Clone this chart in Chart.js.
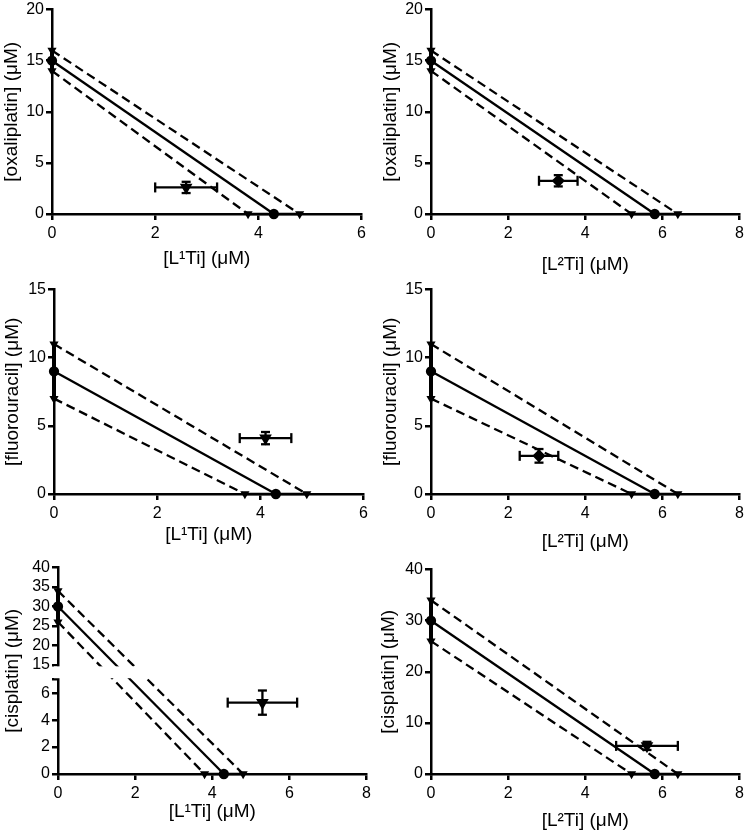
<!DOCTYPE html>
<html><head><meta charset="utf-8">
<script src="https://cdn.jsdelivr.net/npm/chart.js@4.4.1/dist/chart.umd.min.js"></script>
<style>
html,body{margin:0;padding:0;background:#fff;overflow:hidden;width:747px;height:834px;position:relative}
canvas{position:absolute}
</style></head><body>
<script>
// ---------- data ----------
const drugNames = ['oxaliplatin','oxaliplatin','fluorouracil','fluorouracil','cisplatin','cisplatin'];
const tiNames   = ['L¹Ti','L²Ti','L¹Ti','L²Ti','L¹Ti','L²Ti'];
const drugIC50  = [15, 15, 9, 9, 30, 30];
const drugErr   = [1, 1, 2, 2, 4, 4];
const tiIC50    = [4.3, 5.8, 4.3, 5.8, 4.3, 5.8];
const tiErr     = [0.5, 0.6, 0.6, 0.6, 0.5, 0.6];
const comboX    = [2.6, 3.3, 4.1, 2.8, 5.3, 5.6];
const comboXErr = [0.6, 0.5, 0.5, 0.5, 0.9, 0.8];
const comboY    = [2.6, 3.25, 4.1, 2.8, 5.3, 5.5];
const comboYErr = [0.55, 0.55, 0.45, 0.5, 0.9, 0.8];
const xMax      = [6, 8, 6, 8, 8, 8];
const yMax      = [20, 20, 15, 15, 40, 40];
const yStep     = [5, 5, 5, 5, 10, 10];
const brokenPanel     = 4;
const brokenLowRange  = [0, 7];
const brokenHighRange = [15, 40];
const brokenTicks     = [0, 2, 4, 6, 7, 15, 20, 25, 30, 35, 40];
const brokenHiddenTicks = [7];

// ---------- layout (style) ----------
// [canvasLeft, canvasTop, yAxisWidth, plotWidth, plotHeight, xAxisHeight]
const frames = [
  [0, -2, 52, 310, 206, 56],
  [379, -2, 52, 309, 206, 62],
  [1, 278, 53, 310, 206, 52],
  [379, 278, 52, 309, 206, 59],
  [1, 556, 57, 309, 208, 49],
  [377, 558, 54, 309, 206, 58]
];
const PAD_TOP = 10, PAD_RIGHT = 8;
const LOW_FRAC = 95/208, GAP_FRAC = 15/208;
const FONT = '"Liberation Sans", Arial, Helvetica, sans-serif';
const comboStyle = ['triangle','rectRot','triangle','rectRot','triangle','triangle'];
const comboRot   = [180, 0, 180, 0, 180, 180];

// ---------- broken (piecewise) y scale ----------
class BrokenScale extends Chart.LinearScale {
  buildTicks() { return brokenTicks.map(v => ({value: v})); }
  getPixelForValue(value) {
    const h = this.bottom - this.top;
    let f;
    if (value <= brokenLowRange[1]) {
      f = (value - brokenLowRange[0]) / (brokenLowRange[1] - brokenLowRange[0]) * LOW_FRAC;
    } else if (value >= brokenHighRange[0]) {
      f = LOW_FRAC + GAP_FRAC + (value - brokenHighRange[0]) / (brokenHighRange[1] - brokenHighRange[0]) * (1 - LOW_FRAC - GAP_FRAC);
    } else {
      f = LOW_FRAC + (value - brokenLowRange[1]) / (brokenHighRange[0] - brokenLowRange[1]) * GAP_FRAC;
    }
    return this.bottom - f * h;
  }
}
BrokenScale.id = 'broken';
Chart.register(BrokenScale);

const gapMask = {
  id: 'gapMask',
  afterDraw(chart) {
    const y = chart.scales.y, a = chart.chartArea, ctx = chart.ctx;
    const top = y.getPixelForValue(brokenHighRange[0]) + 1.5;
    const bot = y.getPixelForValue(brokenLowRange[1]) - 1.5;
    ctx.save();
    ctx.fillStyle = '#fff';
    ctx.fillRect(a.left - 4, top, a.right - a.left + 20, bot - top);
    ctx.restore();
  }
};

function lineDs(pts, extra) {
  return Object.assign({
    data: pts, borderColor: '#000', backgroundColor: '#000', borderWidth: 2.3,
    pointRadius: 0, pointBackgroundColor: '#000', pointBorderColor: '#000',
    showLine: true, clip: false, tension: 0
  }, extra);
}

for (let i = 0; i < 6; i++) {
  const [cl, ct, yw, pw, ph, xh] = frames[i];
  const cv = document.createElement('canvas');
  cv.width = yw + pw + PAD_RIGHT;
  cv.height = PAD_TOP + ph + xh;
  cv.style.left = cl + 'px';
  cv.style.top = ct + 'px';
  document.body.appendChild(cv);

  const d = drugIC50[i], de = drugErr[i], t = tiIC50[i], te = tiErr[i];
  const cx = comboX[i], cy = comboY[i], cxe = comboXErr[i], cye = comboYErr[i];

  const datasets = [
    lineDs([{x:0,y:d-de},{x:0,y:d+de}], {borderWidth: 4}),
    lineDs([{x:t-te,y:0},{x:t+te,y:0}], {borderWidth: 2.5}),
    lineDs([{x:0,y:d+de},{x:t+te,y:0}], {borderDash:[9,5], pointRadius:3, pointStyle:'triangle', pointRotation:180}),
    lineDs([{x:0,y:d-de},{x:t-te,y:0}], {borderDash:[9,5], pointRadius:3, pointStyle:'triangle', pointRotation:180}),
    lineDs([{x:0,y:d},{x:t,y:0}], {pointRadius:4, pointStyle:'circle'}),
    lineDs([{x:cx-cxe,y:cy},{x:cx+cxe,y:cy}], {pointStyle:'line', pointRadius:5, pointRotation:90, pointBorderWidth:2.3}),
    lineDs([{x:cx,y:cy-cye},{x:cx,y:cy+cye}], {pointStyle:'line', pointRadius:4.5, pointRotation:0, pointBorderWidth:2.3}),
    lineDs([{x:cx,y:cy}], {showLine:false, pointRadius:5, pointStyle:comboStyle[i], pointRotation:comboRot[i]})
  ];

  const tickFont = {family: FONT, size: 16};
  const titleFont = {family: FONT, size: 19};
  const gridOpts = {display:true, drawOnChartArea:false, drawTicks:true, tickLength:6, color:'#000', tickColor:'#000', lineWidth:2.5, tickWidth:2.5};
  const borderOpts = {display:true, color:'#000', width:2.5};

  const yScale = i === brokenPanel ? {
    type: 'broken', min: 0, max: 40,
    ticks: {color:'#000', font: tickFont, padding: 2, autoSkip:false,
            callback: v => brokenHiddenTicks.includes(v) ? '' : String(v)},
  } : {
    type: 'linear', min: 0, max: yMax[i],
    ticks: {color:'#000', font: tickFont, padding: 2, stepSize: yStep[i], autoSkip:false},
  };
  Object.assign(yScale, {
    grid: Object.assign({}, gridOpts), border: Object.assign({}, borderOpts),
    title: {display:true, text:'[' + drugNames[i] + '] (μM)', color:'#000', font:titleFont, padding:0},
    afterFit: s => { s.width = yw; }
  });

  new Chart(cv, {
    type: 'scatter',
    data: {datasets},
    options: {
      responsive: false, animation: false, events: [],
      layout: {padding: {top: PAD_TOP, right: PAD_RIGHT, left: 0, bottom: 0}},
      plugins: {legend: {display:false}, tooltip: {enabled:false}},
      scales: {
        x: {
          type: 'linear', min: 0, max: xMax[i],
          ticks: {color:'#000', font: tickFont, padding: 4, stepSize: 2, maxRotation:0, autoSkip:false},
          grid: Object.assign({}, gridOpts), border: Object.assign({}, borderOpts),
          title: {display:true, text:'[' + tiNames[i] + '] (μM)', color:'#000', font:titleFont, padding:0},
          afterFit: s => { s.height = xh; }
        },
        y: yScale
      }
    },
    plugins: i === brokenPanel ? [gapMask] : []
  });
}
</script>
</body></html>
